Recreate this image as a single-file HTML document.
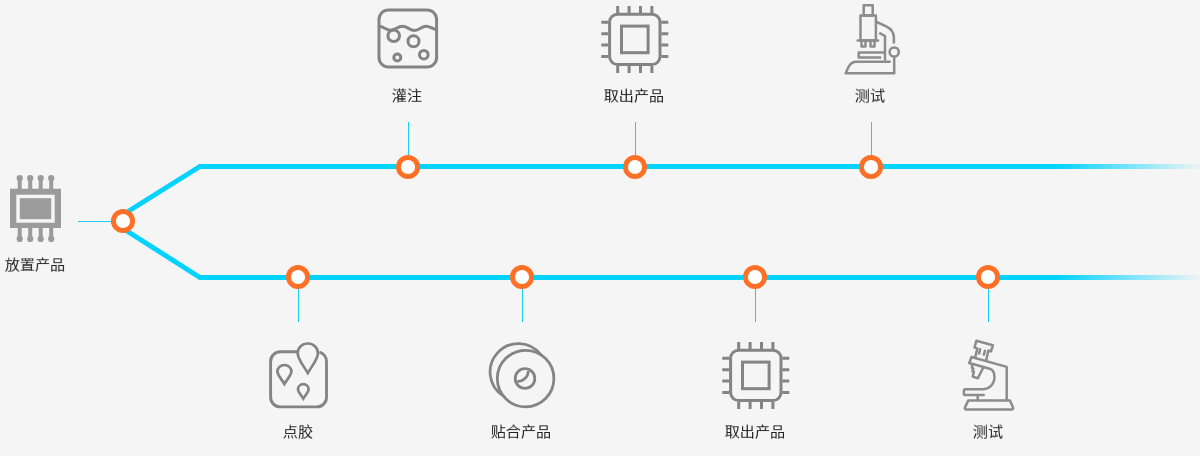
<!DOCTYPE html>
<html lang="zh-CN">
<head>
<meta charset="utf-8">
<title>流程</title>
<style>
html,body{margin:0;padding:0;}
body{width:1200px;height:456px;overflow:hidden;background:#f5f5f5;position:relative;font-family:"Liberation Sans","Noto Sans CJK SC",sans-serif;}
svg{position:absolute;left:0;top:0;display:block;}
.lb{position:absolute;width:120px;margin-left:-60px;text-align:center;font-size:14.4px;line-height:20px;color:#222;white-space:nowrap;font-weight:400;will-change:transform;transform:scale(1.05,0.95);transform-origin:50% 50%;}
</style>
</head>
<body>
<svg width="1200" height="456" viewBox="0 0 1200 456">
<defs>
<linearGradient id="fade" gradientUnits="userSpaceOnUse" x1="1058" y1="0" x2="1204" y2="0">
<stop offset="0" stop-color="#04d3ff" stop-opacity="1"/>
<stop offset="1" stop-color="#04d3ff" stop-opacity="0"/>
</linearGradient>
</defs>
<!-- thin connectors -->
<g stroke="#1fcdf4" stroke-width="1" fill="none">
<path d="M78 221.5H112M408.5 122V156M635.5 122V156M871.5 122V156M298.5 288V322M522.5 288V322M755.5 288V322M988.5 288V322"/>
</g>
<!-- main lines -->
<g fill="none" stroke-width="5" stroke-linejoin="miter" stroke="url(#fade)">
<path d="M112 221.5L200 166.5H1200"/>
<path d="M112 221.5L200 277.5H1200"/>
</g>
<!-- nodes -->
<g fill="#fff" stroke="#ff7027" stroke-width="4.9">
<circle cx="123" cy="221" r="9.55"/>
<circle cx="408" cy="167" r="9.55"/>
<circle cx="635" cy="167" r="9.55"/>
<circle cx="871" cy="167" r="9.55"/>
<circle cx="298" cy="277" r="9.55"/>
<circle cx="522" cy="277" r="9.55"/>
<circle cx="755" cy="277" r="9.55"/>
<circle cx="988" cy="277" r="9.55"/>
</g>
<!-- start chip -->
<g>
<rect x="10" y="188.7" width="51" height="39.3" fill="#9b9b9b"/>
<rect x="16.3" y="194.7" width="38.4" height="28" fill="#f5f5f5"/>
<rect x="19.8" y="198.2" width="31.4" height="21" fill="#9b9b9b"/>
<g stroke="#9b9b9b" stroke-width="4" fill="none">
<path d="M19.7 178V189M30.2 178V189M40.7 178V189M51.2 178V189M19.7 228V239M30.2 228V239M40.7 228V239M51.2 228V239"/>
</g>
<g fill="#9b9b9b">
<circle cx="19.7" cy="178.2" r="3.1"/><circle cx="30.2" cy="178.2" r="3.1"/><circle cx="40.7" cy="178.2" r="3.1"/><circle cx="51.2" cy="178.2" r="3.1"/>
<circle cx="19.7" cy="238.9" r="3.1"/><circle cx="30.2" cy="238.9" r="3.1"/><circle cx="40.7" cy="238.9" r="3.1"/><circle cx="51.2" cy="238.9" r="3.1"/>
</g>
</g>
<!-- pour icon -->
<g fill="none" stroke="#848484" stroke-width="3">
<rect x="379" y="10" width="57.6" height="57" rx="9.5" ry="9.5"/>
<path d="M379 26.3C383.5 26.3 386 30.3 390.5 30.3C395.5 30.3 397.5 26.3 402.5 26.3C407.5 26.3 409.5 30.5 414.5 30.5C419.5 30.5 421.5 26.3 426 26.3C430.5 26.3 432.5 29.5 436.6 29.5"/>
<circle cx="393.7" cy="35.8" r="5.8"/>
<circle cx="413.5" cy="41.3" r="5.5"/>
<circle cx="397.3" cy="57.5" r="3.5"/>
<circle cx="423.8" cy="54.7" r="4.3"/>
</g>
<!-- chips -->
<g transform="translate(634.8 39.4)" fill="none" stroke="#848484" stroke-width="3">
<rect x="-25.2" y="-25.2" width="50.4" height="50.4" rx="8" ry="8"/>
<rect x="-13.3" y="-13.3" width="26.6" height="26.6"/>
<path d="M-17.1-26.5v-7M-5.7-26.5v-7M5.7-26.5v-7M17.1-26.5v-7M-17.1 26.5v7M-5.7 26.5v7M5.7 26.5v7M17.1 26.5v7M-26.5-17.1h-7M-26.5-5.7h-7M-26.5 5.7h-7M-26.5 17.1h-7M26.5-17.1h7M26.5-5.7h7M26.5 5.7h7M26.5 17.1h7"/>
</g>
<g transform="translate(755.8 375.4)" fill="none" stroke="#848484" stroke-width="3">
<rect x="-25.2" y="-25.2" width="50.4" height="50.4" rx="8" ry="8"/>
<rect x="-13.3" y="-13.3" width="26.6" height="26.6"/>
<path d="M-17.1-26.5v-7M-5.7-26.5v-7M5.7-26.5v-7M17.1-26.5v-7M-17.1 26.5v7M-5.7 26.5v7M5.7 26.5v7M17.1 26.5v7M-26.5-17.1h-7M-26.5-5.7h-7M-26.5 5.7h-7M-26.5 17.1h-7M26.5-17.1h7M26.5-5.7h7M26.5 5.7h7M26.5 17.1h7"/>
</g>
<!-- microscope top -->
<g fill="none" stroke="#8c8c8c" stroke-width="2.5" stroke-linejoin="round" transform="translate(-0.3 0)">
<rect x="864" y="5.2" width="9" height="10.2"/>
<rect x="860.8" y="15.4" width="15.4" height="25"/>
<path d="M858 40.4H878.3" stroke-linecap="round"/>
<path d="M861.8 41V46.5H865.8V41M870.8 41V46.5H874.8V41"/>
<path d="M877 22L886.5 26.3C891 28.5 894.2 32 894.2 37.5V43.5"/>
<path d="M879.5 32.8L885.3 36V60.5"/>
<circle cx="894.5" cy="52" r="4.6"/>
<path d="M894.5 57V73.3"/>
<path d="M884.5 52.5H859V57.4H881.5"/>
<path d="M890 61.7H856C851 61.7 849 66 846 73.3H894.5" stroke-linecap="round"/>
</g>
<!-- glue icon -->
<g fill="none" stroke="#848484" stroke-width="2.9" stroke-linejoin="miter" stroke-miterlimit="10">
<path d="M297.5 351.8H280.5C275 351.8 270.6 356 270.6 361.5V397.2C270.6 402.7 275 406.9 280.5 406.9H316.7C322.2 406.9 326.5 402.7 326.5 397.2V361.5C326.5 357 323.5 353.3 319.5 352.1"/>
<path stroke-width="2.7" d="M307.8 373C303 365 297.7 359 297.7 353.2C297.7 347.6 302.2 343.5 307.8 343.5C313.4 343.5 317.9 347.6 317.9 353.2C317.9 359 312.6 365 307.8 373Z"/>
<path stroke-width="2.7" d="M284.4 384C281 378.3 277.4 375 277.4 371.6C277.4 367.8 280.5 365 284.4 365C288.3 365 291.4 367.8 291.4 371.6C291.4 375 287.8 378.3 284.4 384Z"/>
<path stroke-width="2.7" d="M303.3 398.6C300.6 394.3 298 392 298 389.3C298 386.4 300.4 384.2 303.3 384.2C306.2 384.2 308.6 386.4 308.6 389.3C308.6 392 306 394.3 303.3 398.6Z"/>
</g>
<!-- disc icon -->
<g fill="none" stroke="#848484" stroke-width="2.8">
<circle cx="525.6" cy="378.6" r="28.3"/>
<path d="M503.1 395.8A28.3 28.3 0 1 1 540.8 354.7"/>
<circle cx="525" cy="378.5" r="9.8"/>
<path d="M517.2 381.6C523.2 381.4 528 377.3 528.4 371"/>
</g>
<!-- microscope bottom -->
<g fill="none" stroke="#8c8c8c" stroke-width="2.5" stroke-linejoin="round" stroke-linecap="round" transform="translate(-0.3 0)">
<path d="M975.4 357.9L977.7 348.4L974.8 347.6L976.7 340.7L993.2 345.3L991.3 351.3L988.6 350.6L986.5 360.5"/>
<path d="M980.4 349.3L979.4 353.6M985.2 350.8L984.1 354.6"/>
<path d="M969.6 363L971.8 357L1007 366.9V400.3"/>
<path d="M969.6 363L990 368.7C993.3 369.6 994.8 372.5 994.8 377C994.8 384.2 989.5 389.2 982.5 389.2H965.8Q964.2 389.2 964.2 390.8V393.5Q964.2 395.1 965.8 395.1H984"/>
<path d="M972.6 365L972.2 368L973.6 368.5L972.8 371.3L974.2 371.8L973 376.6L978.2 378.2L983.6 367.4"/>
<path d="M978 395.5V400"/>
<path d="M968.5 400.6H1010.3L1013.3 407.5C1013.7 408.7 1013.1 409.5 1011.9 409.5H966.6C965.4 409.5 964.8 408.7 965.3 407.5Z"/>
</g>
</svg>
<div class="lb" style="left:35px;top:255px;">放置产品</div>
<div class="lb" style="left:406.6px;top:85.7px;">灌注</div>
<div class="lb" style="left:633.8px;top:85.8px;">取出产品</div>
<div class="lb" style="left:869.8px;top:85.5px;">测试</div>
<div class="lb" style="left:298.2px;top:421.9px;">点胶</div>
<div class="lb" style="left:520.7px;top:422px;">贴合产品</div>
<div class="lb" style="left:755.3px;top:422px;">取出产品</div>
<div class="lb" style="left:988.3px;top:421.8px;">测试</div>
</body>
</html>
